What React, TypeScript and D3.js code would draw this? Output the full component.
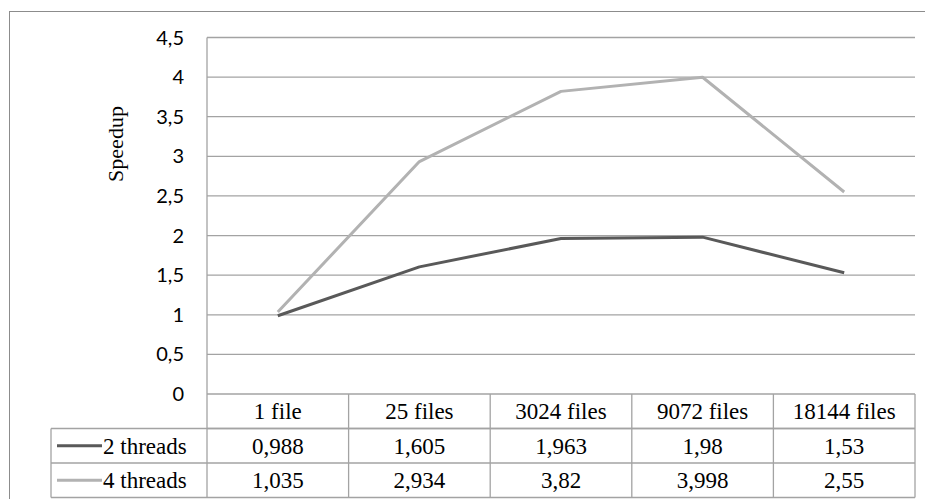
import * as d3 from 'd3'

const categories = ['1 file', '25 files', '3024 files', '9072 files', '18144 files']
const threads2 = [0.988, 1.605, 1.963, 1.98, 1.53]
const threads4 = [1.035, 2.934, 3.82, 3.998, 2.55]
const valueLabels2 = ['0,988', '1,605', '1,963', '1,98', '1,53']
const valueLabels4 = ['1,035', '2,934', '3,82', '3,998', '2,55']
const yTicks = [0, 0.5, 1, 1.5, 2, 2.5, 3, 3.5, 4, 4.5]

const series = [
  { name: '2 threads', values: threads2, labels: valueLabels2, color: '#595959' },
  { name: '4 threads', values: threads4, labels: valueLabels4, color: '#b2b2b2' },
]

const W = 925
const H = 499
const plotLeft = 207
const plotRight = 915
const plotTop = 37.5
const plotBottom = 394
const rowH = 34.5
const legendLeft = 51

const grid = '#a3a3a3'
const serifStyle = { fontFamily: "'Liberation Serif', 'DejaVu Serif', serif" }
const sansStyle = { fontFamily: "Lato, 'Open Sans', sans-serif" }

export default function App() {
  const x = d3.scaleBand<string>().domain(categories).range([plotLeft, plotRight])
  const y = d3.scaleLinear().domain([0, 4.5]).range([plotBottom, plotTop])
  const cx = (c: string) => (x(c) || 0) + x.bandwidth() / 2

  const line = d3.line<number>()
    .x((_, i) => cx(categories[i]))
    .y(d => y(d))

  const fmt = (v: number) => String(v).replace('.', ',')

  return (
    <svg width={W} height={H} style={{ position: 'absolute', left: 0, top: 0, background: '#fff' }}>
      {/* outer border */}
      <rect x={9.5} y={11.5} width={940} height={520} fill="none" stroke="#8c8c8c" strokeWidth={1} />

      {/* gridlines */}
      {yTicks.map(t => (
        <line key={t} x1={plotLeft} x2={plotRight} y1={y(t)} y2={y(t)} stroke={grid} strokeWidth={1.3} />
      ))}
      <line x1={plotLeft} x2={plotLeft} y1={plotTop} y2={plotBottom} stroke={grid} strokeWidth={1.3} />

      {/* y tick labels */}
      {yTicks.map(t => (
        <text key={t} x={184} y={y(t)} dy="0.35em" textAnchor="end" style={sansStyle} fontSize={20} fill="#000">
          {fmt(t)}
        </text>
      ))}

      {/* y axis title */}
      <text transform="translate(115.5,144) rotate(-90)" textAnchor="middle" dy="0.35em" style={serifStyle} fontSize={22} fill="#000">
        Speedup
      </text>

      {/* series lines */}
      {series.map(s => (
        <path key={s.name} d={line(s.values) || ''} fill="none" stroke={s.color} strokeWidth={3} strokeLinejoin="round" />
      ))}

      {/* data table */}
      <g stroke={grid} strokeWidth={1.3} fill="none">
        <line x1={plotLeft} x2={plotRight} y1={plotBottom + rowH} y2={plotBottom + rowH} />
        <line x1={legendLeft} x2={plotRight} y1={plotBottom + rowH} y2={plotBottom + rowH} />
        <line x1={legendLeft} x2={plotRight} y1={plotBottom + 2 * rowH} y2={plotBottom + 2 * rowH} />
        <line x1={legendLeft} x2={plotRight} y1={plotBottom + 3 * rowH} y2={plotBottom + 3 * rowH} />
        <line x1={legendLeft} x2={legendLeft} y1={plotBottom + rowH} y2={plotBottom + 3 * rowH} />
        {categories.map(c => (
          <line key={c} x1={x(c)} x2={x(c)} y1={plotBottom} y2={plotBottom + 3 * rowH} />
        ))}
        <line x1={plotRight} x2={plotRight} y1={plotBottom} y2={plotBottom + 3 * rowH} />
      </g>

      {categories.map(c => (
        <text key={c} x={cx(c)} y={plotBottom + rowH / 2} dy="0.35em" textAnchor="middle" style={serifStyle} fontSize={23} fill="#000">
          {c}
        </text>
      ))}

      {series.map((s, r) => {
        const rowY = plotBottom + rowH * (r + 1) + rowH / 2
        return (
          <g key={s.name}>
            <line x1={57} x2={102} y1={rowY} y2={rowY} stroke={s.color} strokeWidth={3} />
            <text x={103} y={rowY} dy="0.35em" style={serifStyle} fontSize={23} fill="#000">{s.name}</text>
            {categories.map((c, i) => (
              <text key={c} x={cx(c)} y={rowY} dy="0.35em" textAnchor="middle" style={serifStyle} fontSize={23} fill="#000">
                {s.labels[i]}
              </text>
            ))}
          </g>
        )
      })}
    </svg>
  )
}
